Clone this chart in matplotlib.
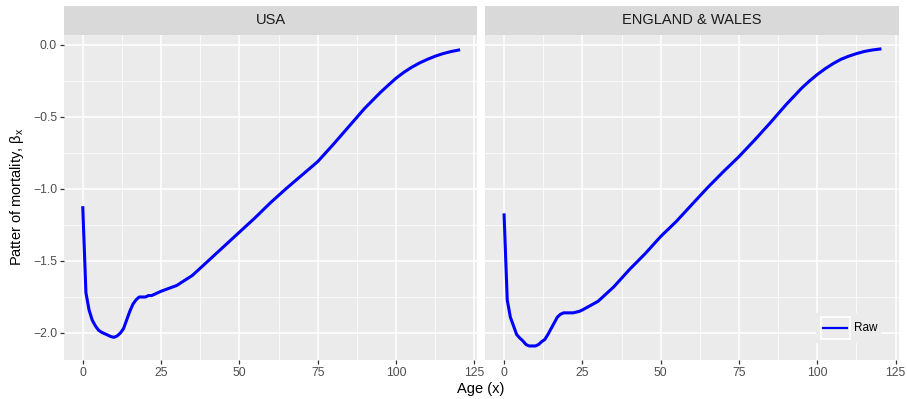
import matplotlib
matplotlib.use("Agg")
import matplotlib.pyplot as plt
from matplotlib.patches import Rectangle
from matplotlib.lines import Line2D
from matplotlib.legend_handler import HandlerBase

plt.rcParams['font.family'] = ['Liberation Sans', 'DejaVu Sans']
plt.rcParams['mathtext.fontset'] = 'custom'
plt.rcParams['mathtext.rm'] = 'Liberation Sans'
plt.rcParams['mathtext.it'] = 'Liberation Sans:italic'

# ---- data ----
ages = [0, 1, 2, 3, 4, 5, 6, 7, 8, 9, 10, 11, 12, 13, 14, 15, 16, 17, 18, 19, 20,
        21, 22, 23, 24, 25, 30, 35, 40, 45, 50, 55, 60, 65, 70, 75, 80, 85, 90,
        95, 97.5, 100, 102.5, 105, 107.5, 110, 112.5, 115, 117.5, 120]
usa = [-1.13, -1.72, -1.84, -1.91, -1.95, -1.98, -1.995, -2.005, -2.015, -2.025,
       -2.03, -2.02, -2.00, -1.97, -1.91, -1.85, -1.80, -1.77, -1.75, -1.75, -1.75,
       -1.74, -1.74, -1.73, -1.72, -1.71, -1.67, -1.60, -1.50, -1.40, -1.30, -1.20,
       -1.094, -0.996, -0.903, -0.81, -0.69, -0.565, -0.44, -0.33, -0.28, -0.231,
       -0.19, -0.155, -0.125, -0.10, -0.078, -0.06, -0.046, -0.035]
ew = [-1.18, -1.77, -1.89, -1.95, -2.01, -2.035, -2.055, -2.08, -2.09, -2.09,
      -2.09, -2.08, -2.06, -2.045, -2.01, -1.97, -1.93, -1.89, -1.87, -1.86, -1.86,
      -1.86, -1.86, -1.855, -1.85, -1.84, -1.78, -1.68, -1.56, -1.45, -1.33, -1.225,
      -1.107, -0.99, -0.88, -0.775, -0.66, -0.54, -0.415, -0.30, -0.25, -0.205,
      -0.165, -0.13, -0.10, -0.078, -0.06, -0.045, -0.035, -0.028]
panels = ["USA", "ENGLAND & WALES"]
series = [usa, ew]
legend_label = "Raw"
xticks = [0, 25, 50, 75, 100, 125]
yticks = [0.0, -0.5, -1.0, -1.5, -2.0]
ytick_labels = ["0.0", "\u22120.5", "\u22121.0", "\u22121.5", "\u22122.0"]

W, H = 907, 399
fig = plt.figure(figsize=(W / 100, H / 100), dpi=100)

PANEL_BG = '#EBEBEB'
STRIP_BG = '#D9D9D9'


class KeyHandler(HandlerBase):
    def create_artists(self, legend, orig_handle, xdescent, ydescent,
                       width, height, fontsize, trans):
        r = Rectangle((-xdescent, -ydescent), width, height, fc=PANEL_BG,
                      ec='white', lw=1.2, transform=trans)
        l = Line2D([-xdescent + 2, width - xdescent - 2],
                   [height / 2 - ydescent] * 2, color='#0000FF', lw=1.6,
                   transform=trans)
        return [r, l]


lefts = [64, 485.3]
pw = 413.4
top, bottom = 35, 360
for i, (name, vals) in enumerate(zip(panels, series)):
    ax = fig.add_axes([lefts[i] / W, (H - bottom) / H, pw / W, (bottom - top) / H])
    ax.set_facecolor(PANEL_BG)
    for s in ax.spines.values():
        s.set_visible(False)
    ax.set_xlim(-6, 126)
    ax.set_ylim(-2.1875, 0.0694)
    ax.set_xticks(xticks)
    ax.set_xticks([12.5, 37.5, 62.5, 87.5, 112.5], minor=True)
    ax.set_yticks(yticks)
    ax.set_yticks([-0.25, -0.75, -1.25, -1.75], minor=True)
    ax.grid(which='major', color='white', lw=1.1)
    ax.grid(which='minor', color='white', lw=0.55)
    ax.set_axisbelow(True)
    ax.tick_params(which='minor', length=0)
    ax.tick_params(which='major', length=3, width=0.9, color='#333333',
                   labelcolor='#4D4D4D', labelsize=8.8, pad=2)
    ax.set_xticklabels([str(t) for t in xticks])
    if i == 0:
        ax.set_yticklabels(ytick_labels)
    else:
        ax.tick_params(axis='y', which='both', left=False, labelleft=False)
    ln, = ax.plot(ages, vals, color='#0000FF', lw=2.2, label=legend_label,
                  solid_joinstyle='round')
    if i == 1:
        leg = ax.legend(handles=[ln], labels=[legend_label],
                        handler_map={Line2D: KeyHandler()},
                        loc='lower right', bbox_to_anchor=(0.972, 0.034),
                        frameon=True, fontsize=8.5, handlelength=2.5,
                        handleheight=2.5, handletextpad=0.3, borderpad=0.35,
                        fancybox=False)
        leg.get_frame().set_facecolor(PANEL_BG)
        leg.get_frame().set_edgecolor('none')
        leg.get_frame().set_alpha(1)
    # strip
    sax = fig.add_axes([lefts[i] / W, (H - top) / H, pw / W, 29 / H])
    sax.set_facecolor(STRIP_BG)
    sax.set_xticks([])
    sax.set_yticks([])
    for s in sax.spines.values():
        s.set_visible(False)
    sax.text(0.5, 0.5, name, ha='center', va='center', fontsize=10.5,
             color='#1A1A1A', transform=sax.transAxes)

fig.text(481 / W, 1 - 389 / H, "Age (x)", ha='center', va='center',
         fontsize=10.5, color='black')
fig.text(17 / W, 1 - 197 / H, r"Patter of mortality, $\mathrm{\beta_x}$",
         ha='center', va='center', rotation=90, fontsize=10.5, color='black')

fig.savefig("out.png", dpi=100, facecolor='white')
